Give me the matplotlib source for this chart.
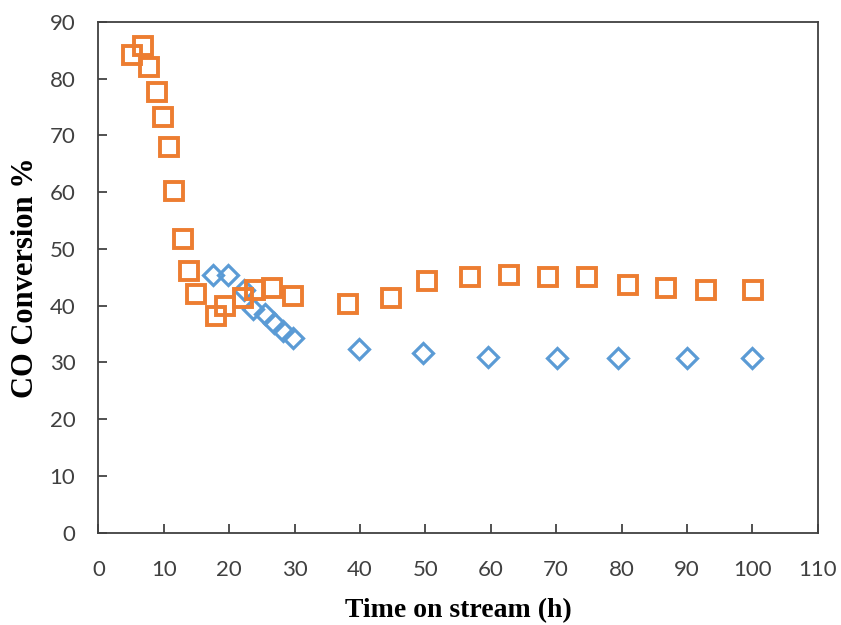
import matplotlib
matplotlib.use("Agg")
import matplotlib.pyplot as plt

# Orange squares series
orange_x = [5.2, 6.8, 7.7, 8.9, 9.9, 10.8, 11.6, 13.0, 13.9, 14.9, 18.0, 19.4,
            22.2, 24.0, 26.5, 29.8, 38.2, 44.8, 50.3, 56.8, 62.8, 68.8, 74.7,
            81.0, 86.8, 92.9, 100.1]
orange_y = [84.1, 85.8, 82.1, 77.7, 73.3, 68.0, 60.2, 51.8, 46.2, 42.1, 38.1, 40.0,
            41.3, 42.8, 43.1, 41.8, 40.3, 41.3, 44.4, 45.1, 45.4, 45.1, 45.1,
            43.7, 43.1, 42.8, 42.8]

# Blue diamonds series
blue_x = [17.6, 19.9, 22.3, 23.7, 25.5, 26.9, 28.2, 29.7, 39.8, 49.6, 59.6,
          70.1, 79.5, 90.0, 100.0]
blue_y = [45.4, 45.4, 42.7, 39.5, 38.5, 37.0, 35.6, 34.3, 32.3, 31.7, 30.9,
          30.7, 30.7, 30.7, 30.7]

x_ticks = list(range(0, 111, 10))
y_ticks = list(range(0, 91, 10))

fig = plt.figure(figsize=(8.41, 6.25), dpi=100)
ax = fig.add_axes([0.1169, 0.1477, 0.8554, 0.8171])

ax.plot(blue_x, blue_y, linestyle='none', marker='D', markersize=10,
        markerfacecolor='none', markeredgecolor='#5B9BD5', markeredgewidth=2.3,
        clip_on=False, zorder=3)
ax.plot(orange_x, orange_y, linestyle='none', marker='s', markersize=13,
        markerfacecolor='none', markeredgecolor='#ED7D31', markeredgewidth=2.8,
        clip_on=False, zorder=4)

ax.set_xlim(0, 110)
ax.set_ylim(0, 90)
ax.set_xticks(x_ticks)
ax.set_yticks(y_ticks)
ax.set_xticklabels([str(t) for t in x_ticks])
ax.set_yticklabels([str(t) for t in y_ticks])

for sp in ax.spines.values():
    sp.set_color('#404040')
    sp.set_linewidth(1.3)

ax.tick_params(axis='both', direction='in', length=6.5, width=1.1, color='#222222',
               labelsize=16, labelcolor='#404040')
ax.tick_params(axis='x', pad=20)
ax.tick_params(axis='y', pad=16.5)
for lab in ax.get_xticklabels() + ax.get_yticklabels():
    lab.set_family('Lato')

ax.set_xlabel('Time on stream (h)', family='Liberation Serif', fontweight='bold',
              fontsize=20, labelpad=13)
ax.set_ylabel('CO Conversion %', family='Liberation Serif', fontweight='bold',
              fontsize=22, labelpad=7)

fig.savefig('out.png', dpi=100)
